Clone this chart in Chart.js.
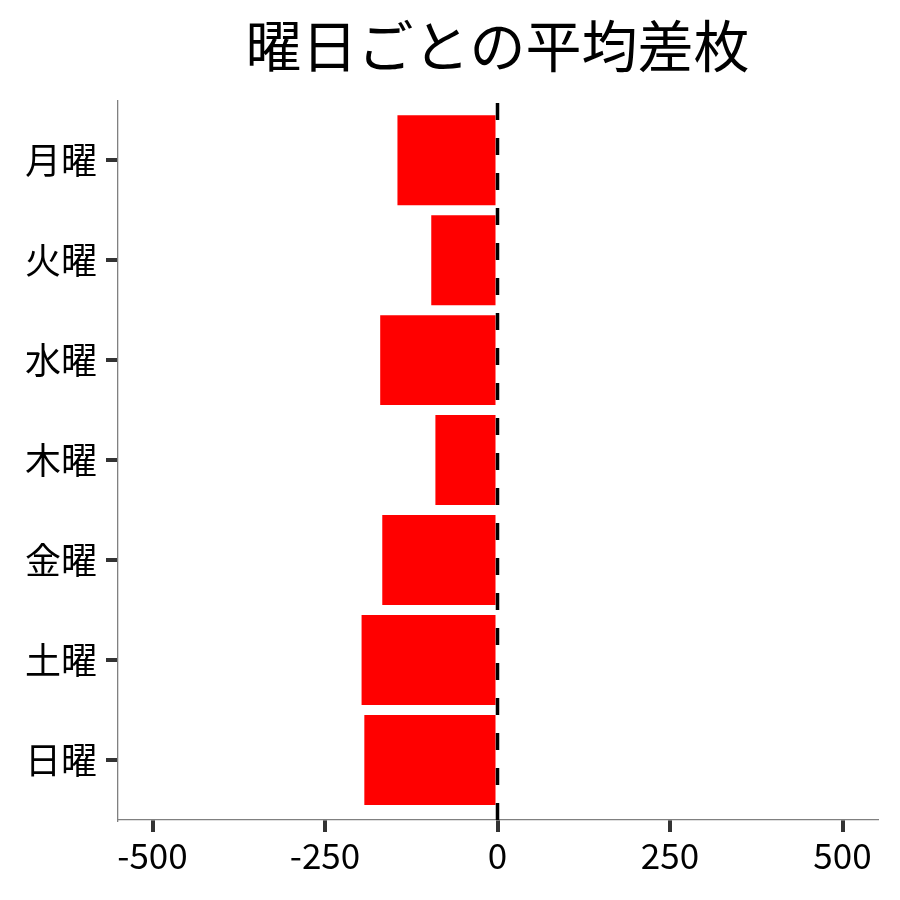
<!DOCTYPE html>
<html>
<head>
<meta charset="utf-8">
<script src="https://cdn.jsdelivr.net/npm/chart.js@4"></script>
<style>
    body { margin: 0; background: #fff; }
</style>
</head>
<body>
<canvas id="chartDays" width="900" height="900"></canvas>
<script>
const days = ["月曜", "火曜", "水曜", "木曜", "金曜", "土曜", "日曜"];
const avgDiff = [-145, -96, -170, -90, -167, -197, -193];
const xTicks = [-500, -250, 0, 250, 500];
const refValue = 0;

const fontFamily = "'Noto Sans CJK JP', 'Noto Sans', sans-serif";

// dashed reference line at x = 0, drawn from the bottom up like the original
const refLine = {
    id: "refLine",
    afterDatasetsDraw(chart) {
        const ctx = chart.ctx;
        const area = chart.chartArea;
        const x = chart.scales.x.getPixelForValue(refValue);
        ctx.save();
        ctx.strokeStyle = "#000";
        ctx.lineWidth = 3.5;
        ctx.setLineDash([17, 18]);
        ctx.beginPath();
        ctx.moveTo(x, area.bottom);
        ctx.lineTo(x, area.top);
        ctx.stroke();
        ctx.restore();
    }
};

new Chart(document.getElementById("chartDays"), {
    type: "bar",
    data: {
        datasets: [{
            data: avgDiff.map((v, i) => ({ x: v, y: i })),
            backgroundColor: "#FF0000",
            borderWidth: 0,
            categoryPercentage: 1.0,
            barPercentage: 0.9
        }]
    },
    options: {
        indexAxis: "y",
        responsive: false,
        animation: false,
        devicePixelRatio: 1,
        layout: {
            padding: { left: 0, right: 23, top: 0, bottom: 0 }
        },
        plugins: {
            legend: { display: false },
            tooltip: { enabled: false },
            title: {
                display: true,
                text: "曜日ごとの平均差枚",
                fullSize: false,
                color: "#000",
                font: { family: fontFamily, size: 56, weight: "normal" },
                padding: { top: 12, bottom: 21 }
            }
        },
        scales: {
            x: {
                type: "linear",
                min: -550,
                max: 550,
                afterBuildTicks: (scale) => {
                    scale.ticks = xTicks.map(v => ({ value: v }));
                },
                afterFit: (scale) => { scale.height = 80; },
                grid: {
                    drawOnChartArea: false,
                    drawTicks: true,
                    tickLength: 12,
                    lineWidth: 4,
                    tickWidth: 4,
                    tickColor: "#333"
                },
                border: { color: "#808080", width: 1.3 },
                ticks: {
                    color: "#000",
                    padding: 3,
                    maxRotation: 0,
                    font: { family: fontFamily, size: 35 }
                }
            },
            y: {
                type: "linear",
                reverse: true,
                offset: false,
                min: -0.6,
                max: 6.6,
                afterBuildTicks: (scale) => {
                    scale.ticks = days.map((d, i) => ({ value: i }));
                },
                afterFit: (scale) => { scale.width = 118; },
                grid: {
                    offset: false,
                    drawOnChartArea: false,
                    drawTicks: true,
                    tickLength: 12,
                    lineWidth: 4,
                    tickWidth: 4,
                    tickColor: "#333"
                },
                border: { color: "#808080", width: 1.3 },
                ticks: {
                    color: "#000",
                    padding: 9,
                    font: { family: fontFamily, size: 36 },
                    callback: (value) => days[value]
                }
            }
        }
    },
    plugins: [refLine]
});
</script>
</body>
</html>
